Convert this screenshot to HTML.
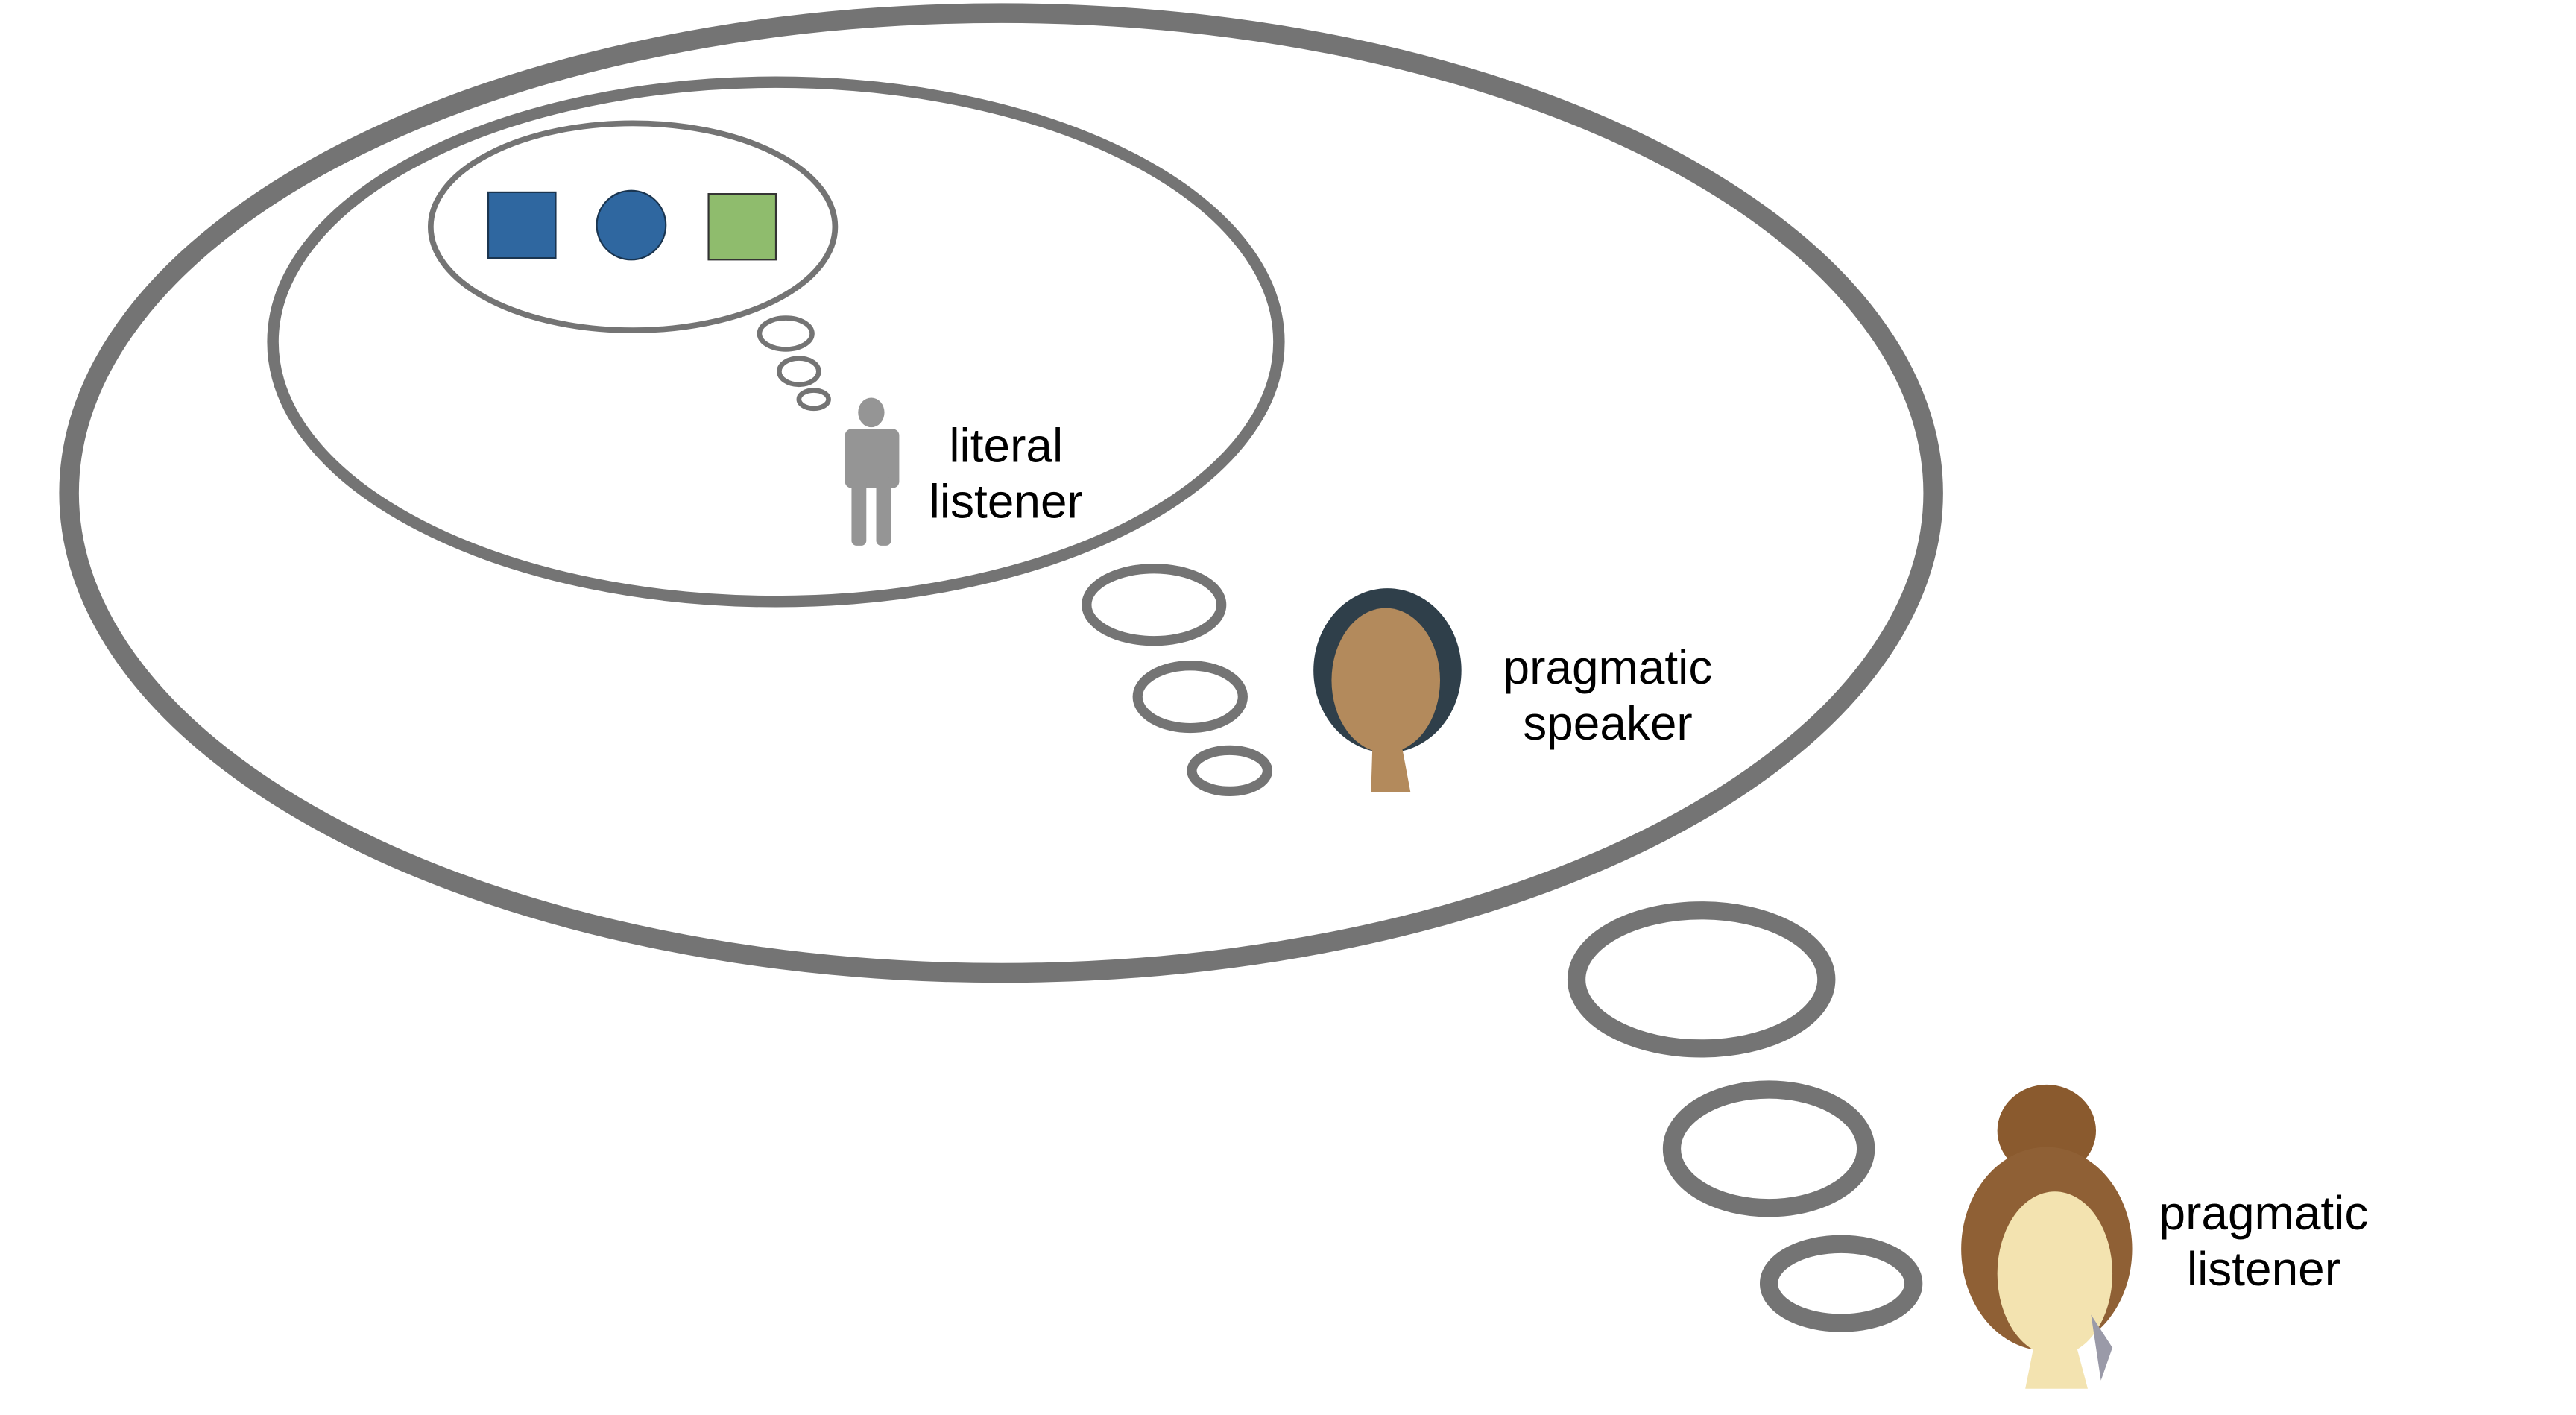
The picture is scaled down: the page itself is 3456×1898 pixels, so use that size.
<!DOCTYPE html>
<html><head><meta charset="utf-8"><style>
html,body{margin:0;padding:0;background:#fff;}
svg{display:block;}
text{font-family:"Liberation Sans",sans-serif;font-size:29px;fill:#000;}
</style></head><body>
<svg width="3456" height="1898" viewBox="0 0 1567 861" preserveAspectRatio="none" xmlns="http://www.w3.org/2000/svg">
<rect width="1567" height="861" fill="#fff"/>
<g fill="none" stroke="#747474">
<ellipse cx="609" cy="300" rx="567" ry="292" stroke-width="12"/>
<ellipse cx="472" cy="208" rx="306" ry="158" stroke-width="7"/>
<ellipse cx="385" cy="138" rx="123" ry="63" stroke-width="3.5"/>
<ellipse cx="478" cy="203" rx="16" ry="9.5" stroke-width="3"/>
<ellipse cx="486" cy="226" rx="12" ry="8" stroke-width="3"/>
<ellipse cx="495" cy="243" rx="9" ry="5.5" stroke-width="3"/>
<ellipse cx="702" cy="368" rx="41" ry="22" stroke-width="6"/>
<ellipse cx="724" cy="424" rx="32" ry="19" stroke-width="6"/>
<ellipse cx="748" cy="469" rx="23" ry="12.5" stroke-width="6"/>
<ellipse cx="1035" cy="596" rx="76" ry="42" stroke-width="11"/>
<ellipse cx="1076" cy="699" rx="59" ry="36" stroke-width="11"/>
<ellipse cx="1120" cy="781" rx="44" ry="24" stroke-width="11"/>
</g>
<rect x="297" y="117" width="41" height="40" fill="#2f67a0" stroke="#1a3550" stroke-width="1"/>
<circle cx="384" cy="137" r="21" fill="#2f67a0" stroke="#1a3550" stroke-width="1"/>
<rect x="431" y="118" width="41" height="40" fill="#8fbc6d" stroke="#333" stroke-width="1"/>
<g fill="#959595">
<ellipse cx="530" cy="251" rx="8" ry="9"/>
<rect x="514" y="261" width="33" height="36" rx="4"/>
<rect x="518" y="290" width="9" height="42" rx="3"/>
<rect x="533" y="290" width="9" height="42" rx="3"/>
</g>
<text x="612" y="281" text-anchor="middle">literal</text>
<text x="612" y="315" text-anchor="middle">listener</text>
<g>
<ellipse cx="844" cy="408" rx="45" ry="50" fill="#2f3f4a"/>
<ellipse cx="843" cy="414" rx="33" ry="44" fill="#b38a5c"/>
<path d="M835 450 L852 450 L858 482 L834 482 Z" fill="#b38a5c"/>
</g>
<text x="978" y="416" text-anchor="middle">pragmatic</text>
<text x="978" y="450" text-anchor="middle">speaker</text>
<g>
<ellipse cx="1245" cy="688" rx="30" ry="28" fill="#8a5a2e"/>
<ellipse cx="1245" cy="760" rx="52" ry="62" fill="#8f6035"/>
<ellipse cx="1250" cy="775" rx="35" ry="50" fill="#f3e3b0"/>
<path d="M1238 815 L1262 815 L1270 845 L1232 845 Z" fill="#f3e3b0"/>
<path d="M1272 800 L1285 820 L1278 840 Z" fill="#9a9aa8"/>
</g>
<text x="1377" y="748" text-anchor="middle">pragmatic</text>
<text x="1377" y="782" text-anchor="middle">listener</text>
</svg>
</body></html>
